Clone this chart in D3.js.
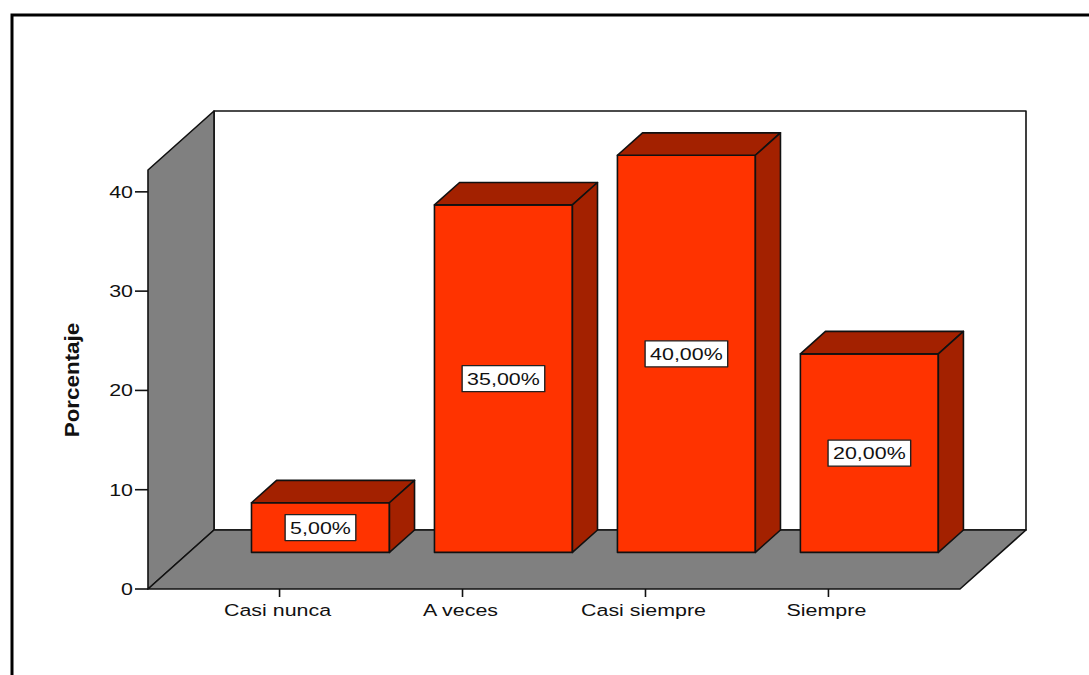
<!DOCTYPE html>
<html>
<head>
<meta charset="utf-8">
<script src="https://cdn.jsdelivr.net/npm/d3@7"></script>
<style>
  html, body { margin: 0; padding: 0; background: #fff; }
  svg { display: block; }
  text { font-family: "Liberation Sans", Arial, sans-serif; fill: #111; }
</style>
</head>
<body>
<svg id="chart" width="1089" height="675"></svg>
<script>
// Porcentaje por categoría de respuesta
const categories = ["Casi nunca", "A veces", "Casi siempre", "Siempre"];
const values = [5, 35, 40, 20];
const yTicks = [0, 10, 20, 30, 40];
const yTitle = "Porcentaje";

const svg = d3.select("#chart");
const W = 1089, H = 675;

// Horizontal stretch applied to all text glyphs
const SX = 1.26;

// Plot geometry (front plane) and the depth vector of the 3D box
const left = 148, right = 960, bottom = 589;
const depth = { x: 66, y: -59 };
const barFront = 0.62, barBack = 1.0;   // bar position along the depth

const y = d3.scaleLinear().domain([0, 42.2]).range([bottom, 170]);
const x = d3.scaleBand().domain(categories).range([left, right])
  .paddingInner(0.246).paddingOuter(0.342);

const C = {
  front: "#ff3300",
  dark: "#a32100",
  gray: "#808080",
  wall: "#ffffff",
  line: "#111111"
};

const es = d3.formatLocale({ decimal: ",", thousands: ".", grouping: [3], currency: ["", " €"] });
const fmt = v => es.format(".2f")(v) + "%";

const pts = arr => arr.map(p => p.join(",")).join(" ");
const topY = y.range()[1];
const dx = depth.x, dy = depth.y;

// Outer frame
svg.append("path")
  .attr("d", `M12,${H + 5} L12,15 L${W + 5},15`)
  .attr("fill", "none").attr("stroke", "#000").attr("stroke-width", 3);

const g = svg.append("g").attr("stroke", C.line).attr("stroke-width", 1.6)
  .attr("stroke-linejoin", "round");

// Back wall
g.append("polygon").attr("fill", C.wall)
  .attr("points", pts([[left + dx, topY + dy], [right + dx, topY + dy], [right + dx, bottom + dy], [left + dx, bottom + dy]]));

// Left side wall
g.append("polygon").attr("fill", C.gray)
  .attr("points", pts([[left, bottom], [left, topY], [left + dx, topY + dy], [left + dx, bottom + dy]]));

// Floor
g.append("polygon").attr("fill", C.gray)
  .attr("points", pts([[left, bottom], [right, bottom], [right + dx, bottom + dy], [left + dx, bottom + dy]]));

// Bars
const fx = barFront * dx, fy = barFront * dy;
const bx = (barBack - barFront) * dx, by = (barBack - barFront) * dy;
const bw = x.bandwidth();

const bars = g.selectAll("g.bar").data(categories.map((c, i) => ({ c, v: values[i] })))
  .join("g").attr("class", "bar");

bars.each(function (d) {
  const sel = d3.select(this);
  const x0 = x(d.c) + fx, x1 = x0 + bw;
  const yb = y(0) + fy, yt = y(d.v) + fy;
  sel.append("polygon").attr("fill", C.front)
    .attr("points", pts([[x0, yt], [x1, yt], [x1, yb], [x0, yb]]));
  sel.append("polygon").attr("fill", C.dark)
    .attr("points", pts([[x0, yt], [x0 + bx, yt + by], [x1 + bx, yt + by], [x1, yt]]));
  sel.append("polygon").attr("fill", C.dark)
    .attr("points", pts([[x1, yt], [x1 + bx, yt + by], [x1 + bx, yb + by], [x1, yb]]));
});

// Value labels in boxes on the front faces
bars.each(function (d) {
  const sel = d3.select(this);
  const cx = x(d.c) + fx + bw / 2;
  const cy = (y(0) + y(d.v)) / 2 + fy;
  const lg = sel.append("g").attr("transform", `translate(${cx},${cy})`);
  const rect = lg.append("rect").attr("fill", "#fff").attr("stroke", "#222").attr("stroke-width", 1.4);
  const t = lg.append("text").attr("text-anchor", "middle").attr("stroke", "none")
    .attr("font-size", 17).attr("transform", `translate(0,6) scale(${SX},1)`).text(fmt(d.v));
  const tw = t.node().getComputedTextLength() * SX;
  rect.attr("x", -tw / 2 - 5).attr("y", -13).attr("width", tw + 10).attr("height", 26);
});

// Y axis ticks and labels
const ya = svg.append("g");
ya.selectAll("line").data(yTicks).join("line")
  .attr("x1", left - 13).attr("x2", left).attr("y1", d => y(d)).attr("y2", d => y(d))
  .attr("stroke", "#111").attr("stroke-width", 1.6);
ya.selectAll("text").data(yTicks).join("text")
  .attr("text-anchor", "end").attr("font-size", 17)
  .attr("transform", d => `translate(${left - 15},${y(d) + 6}) scale(${SX},1)`)
  .text(d => d);

// X axis ticks and labels
const xa = svg.append("g");
xa.selectAll("line").data(categories).join("line")
  .attr("x1", d => x(d) + bw / 2).attr("x2", d => x(d) + bw / 2)
  .attr("y1", bottom).attr("y2", bottom + 8)
  .attr("stroke", "#111").attr("stroke-width", 1.6);
xa.selectAll("text").data(categories).join("text")
  .attr("text-anchor", "middle").attr("font-size", 17)
  .attr("transform", d => `translate(${x(d) + bw / 2 - 2},${bottom + 27}) scale(${SX},1)`)
  .text(d => d);

// Y axis title
svg.append("text")
  .attr("text-anchor", "middle").attr("font-size", 20).attr("font-weight", "bold")
  .attr("transform", `translate(79,380) rotate(-90) scale(1.12,1)`)
  .text(yTitle);
</script>
</body>
</html>
